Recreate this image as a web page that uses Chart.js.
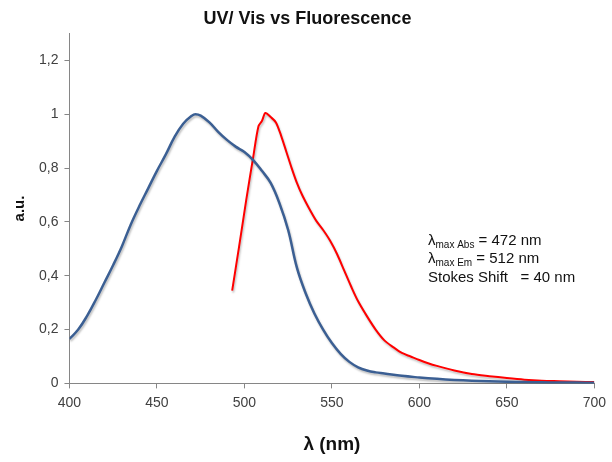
<!DOCTYPE html>
<html>
<head>
<meta charset="utf-8">
<script src="https://cdn.jsdelivr.net/npm/chart.js@4/dist/chart.umd.min.js"></script>
<style>
  html, body { margin: 0; padding: 0; background: #fff; }
  #chart { display: block; }
</style>
</head>
<body>
<canvas id="chart" width="612" height="462"></canvas>
<script>
// absorbance (UV/Vis) spectrum
var absWavelength = [400, 405, 410, 415, 420, 425, 430, 435, 440, 445, 450, 455, 460, 465, 470, 472, 475, 480, 485, 490, 495, 500, 505, 510, 515, 520, 525, 530, 535, 540, 545, 550, 555, 560, 565, 570, 575, 580, 590, 600, 610, 620, 630, 640, 650, 660, 670, 680, 690, 700];
var absValues = [0.165, 0.2, 0.25, 0.31, 0.375, 0.44, 0.51, 0.59, 0.66, 0.725, 0.79, 0.85, 0.915, 0.965, 0.995, 1.0, 0.995, 0.97, 0.935, 0.905, 0.88, 0.86, 0.83, 0.79, 0.745, 0.67, 0.57, 0.43, 0.335, 0.26, 0.2, 0.15, 0.11, 0.08, 0.06, 0.048, 0.041, 0.037, 0.028, 0.022, 0.017, 0.013, 0.01, 0.008, 0.006, 0.005, 0.004, 0.003, 0.003, 0.002];

// emission (fluorescence) spectrum
var emWavelength = [493, 497, 501, 505, 508, 510, 512, 515, 518, 521, 524, 527, 530, 533, 537, 541, 545, 549, 553, 557, 561, 565, 570, 575, 580, 585, 590, 595, 600, 605, 610, 620, 630, 640, 650, 660, 670, 680, 690, 700];
var emValues = [0.345, 0.51, 0.68, 0.84, 0.955, 0.975, 1.005, 0.99, 0.97, 0.92, 0.86, 0.8, 0.745, 0.7, 0.65, 0.605, 0.57, 0.53, 0.48, 0.42, 0.36, 0.305, 0.25, 0.2, 0.16, 0.135, 0.113, 0.1, 0.087, 0.075, 0.065, 0.048, 0.035, 0.027, 0.02, 0.014, 0.01, 0.008, 0.006, 0.005];

var xTicks = [400, 450, 500, 550, 600, 650, 700];
var yTicks = [0, 0.2, 0.4, 0.6, 0.8, 1, 1.2];

function toPoints(xs, ys) {
    var pts = [];
    for (var i = 0; i < xs.length; i++) {
        pts.push({ x: xs[i], y: ys[i] });
    }
    return pts;
}

var tickFont = { family: 'Liberation Sans, Arial, sans-serif', size: 14 };

// soft grey shadow under the lines, like the Excel original
var lineShadow = {
    id: 'lineShadow',
    beforeDatasetDraw: function (chart) {
        var ctx = chart.ctx;
        ctx.save();
        ctx.shadowColor = 'rgba(0,0,0,0.25)';
        ctx.shadowBlur = 2;
        ctx.shadowOffsetX = 1;
        ctx.shadowOffsetY = 2;
    },
    afterDatasetDraw: function (chart) {
        chart.ctx.restore();
    }
};

// lambda max / Stokes shift note
var note = {
    id: 'note',
    afterDraw: function (chart) {
        var ctx = chart.ctx;
        var x = 428;
        ctx.save();
        ctx.fillStyle = '#111';
        ctx.textBaseline = 'alphabetic';
        var big = '15px Liberation Sans, Arial, sans-serif';
        var small = '10px Liberation Sans, Arial, sans-serif';
        var rows = [
            { y: 245, sub: 'max Abs', rest: ' = 472 nm' },
            { y: 263, sub: 'max Em', rest: ' = 512 nm' }
        ];
        rows.forEach(function (r) {
            ctx.font = big;
            ctx.fillText('\u03bb', x, r.y);
            var w = ctx.measureText('\u03bb').width;
            ctx.font = small;
            ctx.fillText(r.sub, x + w, r.y + 3);
            var w2 = ctx.measureText(r.sub).width;
            ctx.font = big;
            ctx.fillText(r.rest, x + w + w2, r.y);
        });
        ctx.font = big;
        ctx.fillText('Stokes Shift   = 40 nm', x, 282);
        ctx.restore();
    }
};

var ctx = document.getElementById('chart').getContext('2d');
var chart = new Chart(ctx, {
    type: 'scatter',
    data: {
        datasets: [{
            label: 'UV/Vis',
            data: toPoints(absWavelength, absValues),
            showLine: true,
            borderColor: '#3b5f93',
            borderWidth: 2.5,
            pointRadius: 0,
            tension: 0.4
        }, {
            label: 'Fluorescence',
            data: toPoints(emWavelength, emValues),
            showLine: true,
            borderColor: '#ff0000',
            borderWidth: 2,
            pointRadius: 0,
            tension: 0.3
        }]
    },
    options: {
        responsive: false,
        animation: false,
        layout: { padding: { left: 11, right: 8, top: 0, bottom: 6 } },
        plugins: {
            legend: { display: false },
            tooltip: { enabled: false },
            title: {
                display: true,
                text: 'UV/ Vis vs Fluorescence',
                color: '#111',
                font: { family: 'Liberation Sans, Arial, sans-serif', size: 18, weight: 'bold' },
                padding: { top: 8, bottom: 4 }
            }
        },
        scales: {
            x: {
                type: 'linear',
                min: 400,
                max: 700,
                afterBuildTicks: function (axis) {
                    axis.ticks = xTicks.map(function (v) { return { value: v }; });
                },
                grid: { drawOnChartArea: false, drawTicks: true, tickLength: 5, color: '#868686' },
                border: { color: '#868686', width: 1 },
                ticks: { color: '#404040', font: tickFont, padding: 6, maxRotation: 0 },
                title: {
                    display: true,
                    text: '\u03bb (nm)',
                    color: '#111',
                    font: { family: 'Liberation Sans, Arial, sans-serif', size: 19, weight: 'bold' },
                    padding: { top: 16, bottom: 0 }
                }
            },
            y: {
                type: 'linear',
                min: 0,
                max: 1.3,
                afterBuildTicks: function (axis) {
                    axis.ticks = yTicks.map(function (v) { return { value: v }; });
                },
                grid: { drawOnChartArea: false, drawTicks: true, tickLength: 5, color: '#868686' },
                border: { color: '#868686', width: 1 },
                ticks: {
                    color: '#404040',
                    font: tickFont,
                    padding: 6,
                    callback: function (v) { return String(Math.round(v * 10) / 10).replace('.', ','); }
                },
                title: {
                    display: true,
                    text: 'a.u.',
                    color: '#111',
                    font: { family: 'Liberation Sans, Arial, sans-serif', size: 15, weight: 'bold' },
                    padding: { top: 0, bottom: 4 }
                }
            }
        }
    },
    plugins: [lineShadow, note]
});
</script>
</body>
</html>
